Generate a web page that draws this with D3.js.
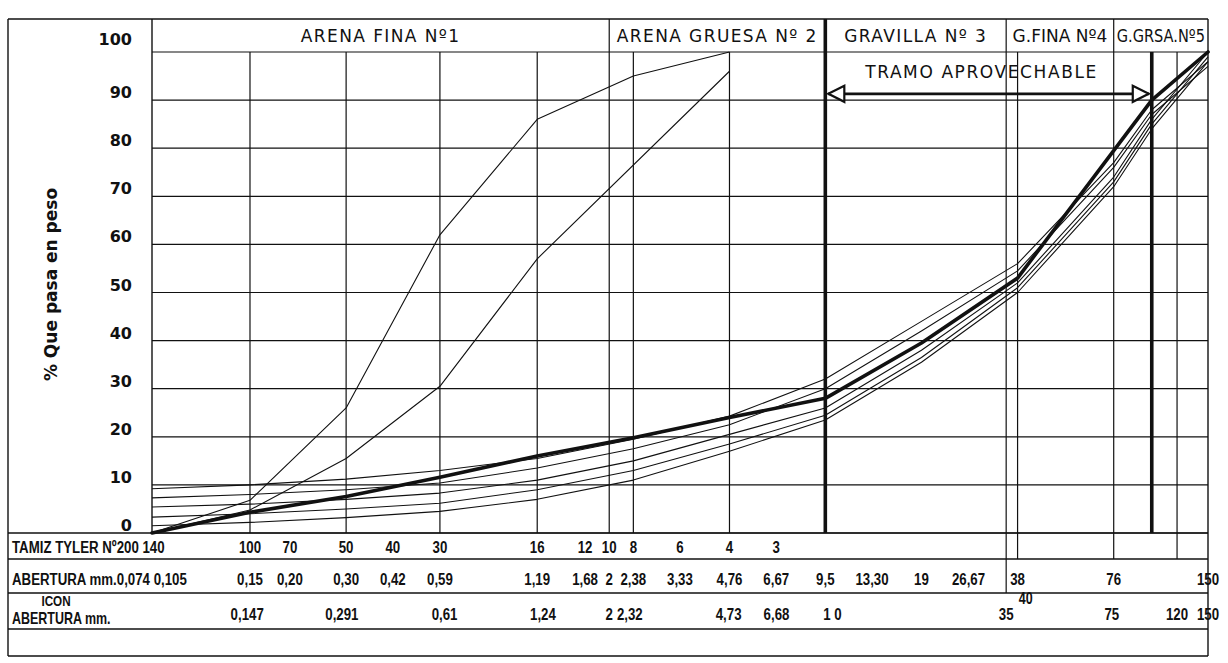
<!DOCTYPE html>
<html>
<head>
<meta charset="utf-8">
<script src="https://cdn.jsdelivr.net/npm/d3@7"></script>
<style>
  html, body { margin: 0; padding: 0; background: #fff; }
  svg { display: block; }
  .lbl { font-family: "DejaVu Sans", "Liberation Sans", sans-serif; fill: #111; }
  .tbl { font-family: "Liberation Sans", "DejaVu Sans", sans-serif; font-weight: bold; fill: #111; }
</style>
</head>
<body>
<svg id="chart" width="1228" height="663"></svg>
<script>
// ---- Grading chart data -------------------------------------------------

// Sieve openings (mm) carrying a thin vertical rule
const gridOpenings = [0.15, 0.30, 0.59, 1.19, 2, 2.38, 4.76, 35, 38, 76, 120];
// Limits of the usable range (heavy rules)
const heavyOpenings = [9.5, 100];
// Percent passing ticks
const percentTicks = [0, 10, 20, 30, 40, 50, 60, 70, 80, 90, 100];

// Aggregate fractions named across the top
const bandNames  = ["ARENA FINA Nº1", "ARENA GRUESA  Nº 2", "GRAVILLA  Nº 3", "G.FINA Nº4", "G.GRSA.Nº5"];
const bandLimits = [0.074, 2, 9.5, 35, 76, 150];

// Table under the chart
const tylerNumbers   = ["200", "140", "100", "70", "50", "40", "30", "16", "12", "10", "8", "6", "4", "3"];
const aberturaLabels = ["0,074", "0,105", "0,15", "0,20", "0,30", "0,42", "0,59", "1,19", "1,68", "2", "2,38",
                        "3,33", "4,76", "6,67", "9,5", "13,30", "19", "26,67", "38", "76", "150"];
const aberturaMM     = [0.074, 0.105, 0.15, 0.20, 0.30, 0.42, 0.59, 1.19, 1.68, 2, 2.38,
                        3.33, 4.76, 6.67, 9.5, 13.3, 19, 26.67, 38, 76, 150];
const iconLabels     = ["0,147", "0,291", "0,61", "1,24", "2", "2,32", "4,73", "6,68", "1 0", "35", "75", "120", "150"];
const iconMM         = [0.147, 0.291, 0.61, 1.24, 2, 2.32, 4.73, 6.68, 10, 35, 75, 120, 150];

// Sand gradings (sizes in mm, % passing)
const arenaFinaSizes  = [0.074, 0.15, 0.30, 0.59, 1.19, 2.38, 4.76];
const arenaFinaPass   = [0, 6.8, 26, 62, 86, 95, 100];
const arenaGruesaSizes = [0.074, 0.15, 0.30, 0.59, 1.19, 4.76];
const arenaGruesaPass  = [0, 4.8, 15.5, 30.5, 57, 96];

// Mixed-aggregate gradings
const mixSizes = [0.074, 0.15, 0.30, 0.59, 1.19, 2.38, 4.76, 9.5, 19, 38, 76, 100, 150];
const mixDesign = [0, 4.3, 7.6, 11.6, 16, 19.8, 24, 28, 39.5, 53, 79.5, 90, 100];
const mixA = [9.2, 10, 11.2, 13, 15.5, 19.5, 24.3, 32, 44, 56, 77, 88, 98];
const mixB = [7.3, 8, 9, 10.4, 13.5, 17.5, 22.5, 30, 42, 54.5, 76, 87, 97];
const mixC = [5.4, 6, 7, 8.3, 11, 15, 20.5, 26, 38, 52, 74, 86, 100];
const mixD = [3.3, 4, 5, 6.2, 9, 13, 18.5, 24.5, 36.5, 51, 73, 85, 99];
const mixE = [1.5, 2.2, 3.2, 4.5, 7, 11, 17, 23.5, 35.5, 50, 72, 84, 98];

// ---- Layout --------------------------------------------------------------
const frame = { left: 8, top: 19, bottom: 656 };
const plot = { left: 152, right: 1208, top: 52, bottom: 533 };
const rowLines = [559, 593, 629];        // table separators
const rowBase  = [553, 585, 620];        // text baselines in the table
const narrow = 0.78;                     // horizontal squeeze of the table lettering

const svg = d3.select("#chart");
const x = d3.scaleLog().domain([0.074, 150]).range([plot.left, plot.right]);
const y = d3.scaleLinear().domain([0, 100]).range([plot.bottom, plot.top]);

const ink = "#111";
const g = svg.append("g");

// horizontal grid
g.selectAll("line.h").data(percentTicks).join("line")
  .attr("x1", plot.left).attr("x2", plot.right)
  .attr("y1", d => y(d)).attr("y2", d => y(d))
  .attr("stroke", ink).attr("stroke-width", 1.2);

// vertical grid; some rules continue into the table
const ruleDepth = d => d === 35 ? rowLines[1] : (d === 38 || d === 76 || d === 120) ? rowLines[0] : plot.bottom;
const ruleTop = d => bandLimits.includes(d) ? frame.top : plot.top;
g.selectAll("line.v").data(gridOpenings).join("line")
  .attr("x1", d => x(d)).attr("x2", d => x(d))
  .attr("y1", d => ruleTop(d)).attr("y2", d => ruleDepth(d))
  .attr("stroke", ink).attr("stroke-width", 1.2);

// outer frame, plot left edge, right edge, header and table rules
const frameLines = [
  [frame.left, frame.top, plot.right, frame.top],
  [frame.left, frame.top, frame.left, frame.bottom],
  [frame.left, frame.bottom, plot.right, frame.bottom],
  [plot.right, frame.top, plot.right, frame.bottom],
  [plot.left, frame.top, plot.left, plot.bottom],
  [frame.left, plot.bottom, plot.right, plot.bottom],
  ...rowLines.map(r => [frame.left, r, plot.right, r])
];
g.selectAll("line.f").data(frameLines).join("line")
  .attr("x1", d => d[0]).attr("y1", d => d[1]).attr("x2", d => d[2]).attr("y2", d => d[3])
  .attr("stroke", ink).attr("stroke-width", 1.4);

// band names across the top, squeezed to fit their band when needed
g.selectAll("text.band").data(bandNames).join("text")
  .attr("class", "lbl")
  .attr("x", (d, i) => (x(bandLimits[i]) + x(bandLimits[i + 1])) / 2)
  .attr("y", frame.top + 23)
  .attr("text-anchor", "middle")
  .attr("font-size", 17).attr("letter-spacing", 1.4)
  .text(d => d)
  .each(function (d, i) {
    const room = x(bandLimits[i + 1]) - x(bandLimits[i]) - 6;
    if (this.getComputedTextLength() > room) {
      d3.select(this).attr("letter-spacing", 0);
      if (this.getComputedTextLength() > room)
        d3.select(this).attr("textLength", room).attr("lengthAdjust", "spacingAndGlyphs");
    }
  });

// curves
const line = d3.line().x(d => x(d[0])).y(d => y(d[1]));
const zipCurve = (sizes, vals) => sizes.map((s, i) => [s, vals[i]]);
const thinCurves = [
  zipCurve(arenaFinaSizes, arenaFinaPass),
  zipCurve(arenaGruesaSizes, arenaGruesaPass),
  zipCurve(mixSizes, mixA), zipCurve(mixSizes, mixB), zipCurve(mixSizes, mixC),
  zipCurve(mixSizes, mixD), zipCurve(mixSizes, mixE)
];
g.selectAll("path.thin").data(thinCurves).join("path")
  .attr("d", line).attr("fill", "none").attr("stroke", ink).attr("stroke-width", 1.1)
  .attr("stroke-linejoin", "round");
g.append("path").datum(zipCurve(mixSizes, mixDesign))
  .attr("d", line).attr("fill", "none").attr("stroke", ink).attr("stroke-width", 3.6)
  .attr("stroke-linejoin", "round").attr("stroke-linecap", "round");

// heavy limit rules
g.selectAll("line.heavy").data(heavyOpenings).join("line")
  .attr("x1", d => x(d)).attr("x2", d => x(d))
  .attr("y1", d => ruleTop(d)).attr("y2", plot.bottom)
  .attr("stroke", ink).attr("stroke-width", 3.6);

// usable range arrow
const arrowY = y(91.3);
const xa = x(heavyOpenings[0]) + 3, xb = x(heavyOpenings[1]) - 3;
g.append("line").attr("x1", xa).attr("x2", xb).attr("y1", arrowY).attr("y2", arrowY)
  .attr("stroke", ink).attr("stroke-width", 2.6);
const head = (tip, dir) => `M${tip},${arrowY} L${tip + dir * 16},${arrowY - 8} L${tip + dir * 16},${arrowY + 8} Z`;
g.append("path").attr("d", head(xa, 1)).attr("fill", "#fff").attr("stroke", ink).attr("stroke-width", 2.2);
g.append("path").attr("d", head(xb, -1)).attr("fill", "#fff").attr("stroke", ink).attr("stroke-width", 2.2);
g.append("text").attr("class", "lbl")
  .attr("x", (xa + xb) / 2 - 7).attr("y", arrowY - 16)
  .attr("text-anchor", "middle").attr("font-size", 17).attr("letter-spacing", 1.6)
  .text("TRAMO APROVECHABLE");

// percent labels
g.selectAll("text.pct").data(percentTicks).join("text")
  .attr("class", "lbl")
  .attr("x", plot.left - 20)
  .attr("y", d => y(d) - (d === 100 ? 7 : 2))
  .attr("text-anchor", "end").attr("font-size", 16).attr("font-weight", "bold")
  .text(d => d);

g.append("text").attr("class", "lbl")
  .attr("transform", `translate(${frame.left + 49},${(plot.top + plot.bottom) / 2 - 8}) rotate(-90)`)
  .attr("text-anchor", "middle").attr("font-size", 17).attr("font-weight", "bold")
  .text("% Que pasa en peso");

// ---- Table rows --------------------------------------------------------------
const inlineLimit = 0.12;   // openings smaller than this are written next to the row title
const squeeze = (px, base) => `translate(${px},${base}) scale(${narrow},1)`;
function tableRow(title, labels, sizes, base) {
  const t = g.append("text").attr("class", "tbl").attr("transform", squeeze(frame.left + 4, base)).attr("font-size", 17);
  t.append("tspan").text(title);
  labels.forEach((l, i) => { if (sizes[i] < inlineLimit) t.append("tspan").text((i ? " " : "") + l); });
  const rest = labels.map((l, i) => [l, sizes[i]]).filter(d => d[1] >= inlineLimit);
  g.selectAll(null).data(rest).join("text")
    .attr("class", "tbl")
    .attr("transform", d => squeeze(x(d[1]), base))
    .attr("text-anchor", "middle").attr("font-size", 17)
    .text(d => d[0]);
}
const tylerMM = aberturaMM.slice(0, tylerNumbers.length);
tableRow("TAMIZ TYLER Nº", tylerNumbers, tylerMM, rowBase[0]);
tableRow("ABERTURA mm.", aberturaLabels, aberturaMM, rowBase[1]);
tableRow("", iconLabels, iconMM, rowBase[2]);
g.append("text").attr("class", "tbl").attr("transform", squeeze(frame.left + 48, rowBase[2] - 14))
  .attr("text-anchor", "middle").attr("font-size", 15).text("ICON");
g.append("text").attr("class", "tbl").attr("transform", squeeze(frame.left + 4, rowBase[2] + 4))
  .attr("font-size", 16).text("ABERTURA mm.");
g.append("text").attr("class", "tbl").attr("transform", squeeze(x(40) + 1, rowLines[1] + 11))
  .attr("text-anchor", "middle").attr("font-size", 16).text("40");
</script>
</body>
</html>
